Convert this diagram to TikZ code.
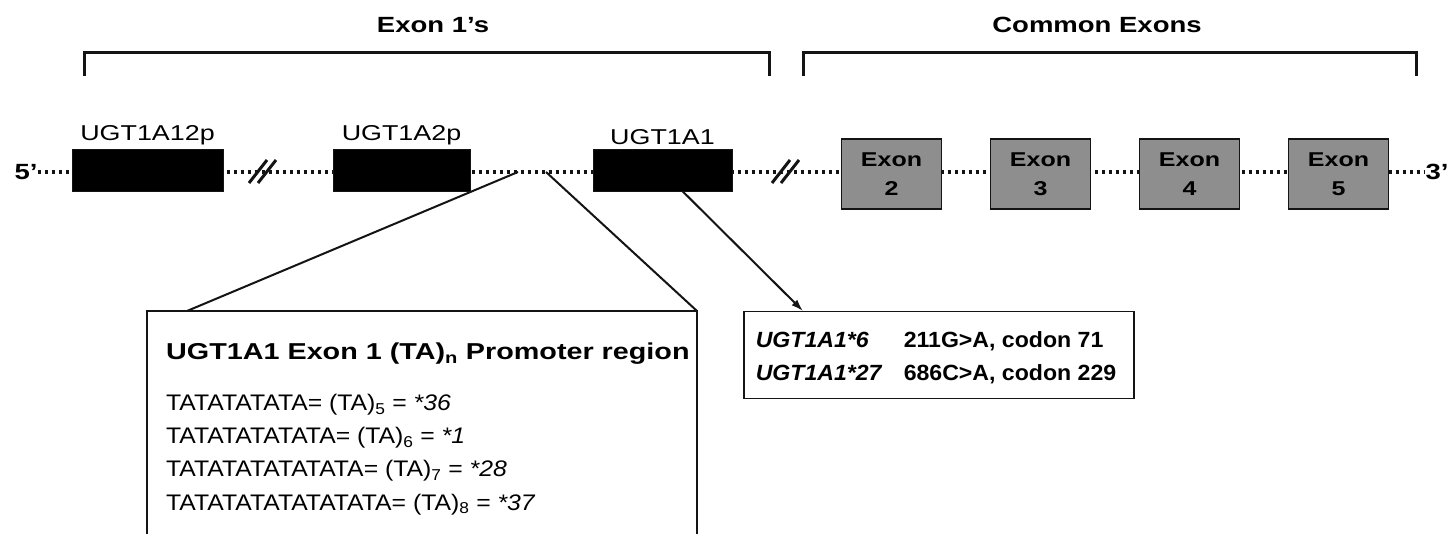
\documentclass[tikz,border=0pt]{standalone}
\usepackage{fontspec}
\setmainfont{Liberation Sans}[FakeStretch=1.25]
\newfontfamily\seqfont{Liberation Sans}[FakeStretch=1.1]
\newfontfamily\varfont{Liberation Sans}[FakeStretch=1.05]
\usetikzlibrary{arrows.meta,positioning}
\definecolor{ink}{HTML}{141414}
\definecolor{exonGray}{HTML}{8E8E8E}

\begin{document}
\begin{tikzpicture}[x=1pt,y=-1pt,
  node distance=4pt,
  gene/.style={fill=black,draw=ink,minimum height=42pt,inner sep=0pt},
  exon/.style={fill=exonGray,draw=ink,line width=1.5pt,minimum width=100pt,
    minimum height=70pt,align=center,inner sep=0pt,
    font=\fontsize{20}{29}\selectfont\bfseries},
  genelab/.style={inner sep=0pt,font=\fontsize{21.5}{25}\selectfont},
  head/.style={inner sep=0pt,font=\fontsize{22}{26}\selectfont\bfseries},
  endlab/.style={inner sep=0pt,font=\fontsize{22}{26}\selectfont\bfseries},
  bracket/.style={line width=3pt,draw=ink},
  backbone/.style={line width=3.5pt,dash pattern=on 3.5pt off 3.5pt,draw=ink},
  brk/.style={line width=3pt,draw=ink},
  zoomline/.style={line width=2pt,draw=ink},
  frame/.style={line width=1.5pt,draw=ink},
  seq/.style={anchor=base west,inner sep=0pt,font=\seqfont\fontsize{22.5}{26}\selectfont},
  arr/.style={-{Latex[length=12pt,width=8pt]},line width=2pt,draw=ink}
]
\clip (0,0) rectangle (1449,534);
\fill[white] (0,0) rectangle (1449,534);

% brackets and headings
\draw[bracket] (84,76) -- (84,53) -- (769,53) -- (769,76);
\draw[bracket] (803,76) -- (803,53) -- (1416,53) -- (1416,76);
\node[head] (hExon1) at (433,25) {Exon 1’s};
\node[head] (hCommon) at (1097,25) {Common Exons};

% gene backbone
\node[endlab] (p5) at (26,172) {5’};
\node[endlab] (p3) at (1437,172) {3’};
\draw[backbone] (p5.east) -- (p3.west);

\coordinate (brkA) at (263,172);
\coordinate (brkB) at (786,172);
\foreach \b in {brkA,brkB}{
  \draw[brk] (\b) ++(-14,11) -- ++(18,-23);
  \draw[brk] (\b) ++(-5,11) -- ++(18,-23);
}

% first exons
\node[gene,minimum width=151pt] (g12) at (147.5,170) {};
\node[gene,minimum width=137pt] (g2) at (401.5,170) {};
\node[gene,minimum width=139pt] (g1) at (662.5,170) {};
\node[genelab,above=of g12] (lab12) {UGT1A12p};
\node[genelab,above=of g2] (lab2) {UGT1A2p};
\node[genelab,above=of g1] (lab1) {UGT1A1};

% common exons
\foreach \n/\x in {2/891.5,3/1040.5,4/1189.5,5/1338.5}
  \node[exon] (e\n) at (\x,174) {Exon\\\n};

% (TA)n promoter callout
\coordinate (taL) at (518,172);
\coordinate (taR) at (546,172);
\coordinate (promoTL) at (147,311);
\coordinate (promoTR) at (697,311);
\draw[frame] (promoTL |- 0,545) -- (promoTL) -- (promoTR) -- (promoTR |- 0,545);
\draw[zoomline] (taL) -- ([xshift=40pt]promoTL);
\draw[zoomline] (taR) -- (promoTR);
\node[seq,font=\fontsize{23}{27}\selectfont\bfseries] (promoTitle) at (166,360)
  {UGT1A1 Exon 1 (TA)\textsubscript{n} Promoter region};
\foreach \s/\n/\a/\y in {TATATATATA/5/36/411,TATATATATATA/6/1/444,
    TATATATATATATA/7/28/477,TATATATATATATATA/8/37/510}
  \node[seq] (ta\n) at (166,\y) {\s= (TA)\textsubscript{\n} = \textit{*\a}};

% UGT1A1 coding variants
\node[draw=ink,line width=1.5pt,anchor=north west,inner xsep=12pt,inner ysep=8pt,
  font=\varfont\fontsize{22}{33}\selectfont\bfseries] (alleles) at (743,311)
  {\begin{tabular}{@{}p{148pt}@{}l@{\hspace{6pt}}}
   \rule{0pt}{28pt}\textit{UGT1A1*6} & 211G>A, codon 71\\
   \textit{UGT1A1*27} & 686C>A, codon 229
   \end{tabular}};
\draw[arr] ([xshift=20pt]g1.south) -- ([xshift=60pt]alleles.north west);
\end{tikzpicture}
\end{document}
